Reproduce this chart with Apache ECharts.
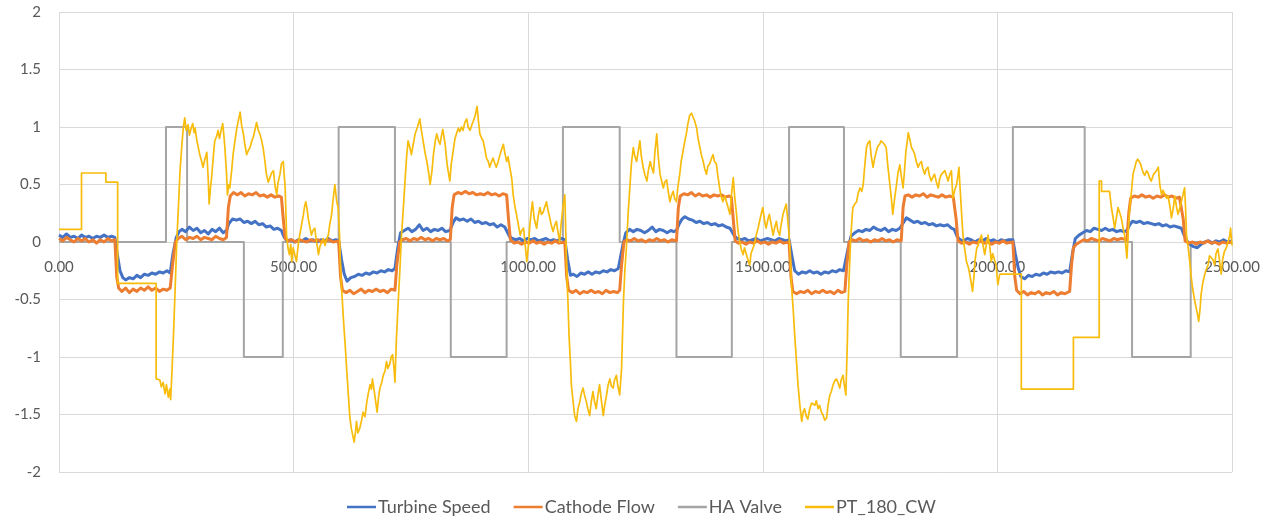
<!DOCTYPE html>
<html>
<head>
<meta charset="utf-8">
<script src="https://cdn.jsdelivr.net/npm/echarts@6/dist/echarts.min.js"></script>
<style>
html,body{margin:0;padding:0;background:#fff;}
#chart{width:1264px;height:519px;}
</style>
</head>
<body>
<div id="chart"></div>
<script>
const seriesNames = ['Turbine Speed', 'Cathode Flow', 'HA Valve', 'PT_180_CW'];
const seriesColors = ['#4472C4', '#ED7D31', '#A5A5A5', '#F7BC0C'];

const haValve = [[0,0],[228,0],[228,1],[273,1],[273,0],[394,0],[394,-1],[477,-1],[477,0],[596,0],[596,1],[716,1],[716,0],[835,0],[835,-1],[954,-1],[954,0],[1074,0],[1074,1],[1195,1],[1195,0],[1316,0],[1316,-1],[1434,-1],[1434,0],[1556,0],[1556,1],[1673,1],[1673,0],[1794,0],[1794,-1],[1914,-1],[1914,0],[2033,0],[2033,1],[2186,1],[2186,0],[2287,0],[2287,-1],[2412,-1],[2412,0],[2500,0]];

const turbineSpeed = [[0,0.06],[8,0.04],[16,0.07],[24,0.04],[32,0.05],[40,0.03],[48,0.06],[56,0.04],[64,0.05],[72,0.03],[80,0.05],[88,0.04],[96,0.06],[104,0.04],[112,0.05],[119,0.04],
[124,-0.1],[130,-0.25],[136,-0.31],[142,-0.33],[150,-0.31],[158,-0.32],[166,-0.29],[174,-0.31],[182,-0.28],[190,-0.29],[198,-0.27],[206,-0.28],[214,-0.26],[222,-0.27],[230,-0.25],[237,-0.27],
[243,-0.1],[250,0.04],[256,0.09],[262,0.11],[270,0.09],[278,0.13],[286,0.1],[294,0.12],[302,0.08],[310,0.1],[318,0.07],[326,0.11],[334,0.09],[342,0.12],[350,0.08],[357,0.1],
[362,0.16],[370,0.2],[378,0.19],[386,0.2],[394,0.17],[402,0.18],[410,0.16],[418,0.18],[426,0.15],[434,0.16],[442,0.13],[450,0.14],[458,0.11],[466,0.12],[474,0.1],
[480,0.04],[486,0.01],[494,0.02],[502,0.0],[510,0.02],[518,0.01],[526,0.03],[534,0.01],[542,0.02],[550,0.0],[558,0.02],[566,0.01],[574,0.03],[582,0.01],[590,0.02],[596,0.01],
[602,-0.15],[608,-0.28],[614,-0.34],[622,-0.31],[630,-0.3],[638,-0.28],[646,-0.29],[654,-0.27],[662,-0.28],[670,-0.26],[678,-0.27],[686,-0.25],[694,-0.26],[702,-0.24],[710,-0.25],[716,-0.23],
[722,-0.05],[728,0.08],[736,0.1],[744,0.12],[752,0.09],[760,0.11],[768,0.15],[776,0.1],[784,0.12],[792,0.09],[800,0.11],[808,0.1],[816,0.12],[824,0.09],[833,0.1],
[840,0.17],[846,0.21],[854,0.19],[862,0.2],[870,0.18],[878,0.2],[886,0.17],[894,0.18],[902,0.16],[910,0.17],[918,0.15],[926,0.16],[934,0.13],[942,0.15],[950,0.13],[954,0.12],
[960,0.05],[966,0.03],[974,0.02],[982,0.03],[990,0.01],[998,0.03],[1006,0.02],[1014,0.03],[1022,0.01],[1030,0.02],[1038,0.03],[1046,0.01],[1054,0.02],[1062,0.01],[1070,0.03],[1078,0.02],
[1084,-0.15],[1090,-0.29],[1096,-0.28],[1104,-0.3],[1112,-0.27],[1120,-0.28],[1128,-0.26],[1136,-0.28],[1144,-0.26],[1152,-0.27],[1160,-0.25],[1168,-0.26],[1176,-0.24],[1184,-0.25],[1192,-0.23],[1196,-0.22],
[1202,-0.02],[1208,0.08],[1216,0.11],[1224,0.09],[1232,0.11],[1240,0.1],[1248,0.08],[1256,0.1],[1264,0.13],[1272,0.09],[1280,0.11],[1288,0.1],[1296,0.08],[1304,0.1],[1310,0.09],[1316,0.1],
[1322,0.16],[1328,0.2],[1334,0.22],[1342,0.2],[1350,0.19],[1358,0.17],[1366,0.18],[1374,0.16],[1382,0.17],[1390,0.15],[1398,0.16],[1406,0.14],[1414,0.15],[1422,0.13],[1430,0.12],[1434,0.12],
[1440,0.05],[1446,0.03],[1454,0.02],[1462,0.03],[1470,0.01],[1478,0.02],[1486,0.03],[1494,0.01],[1502,0.02],[1510,0.03],[1518,0.02],[1526,0.01],[1534,0.03],[1542,0.02],[1550,0.01],[1556,0.02],
[1562,-0.12],[1568,-0.25],[1576,-0.28],[1584,-0.26],[1592,-0.27],[1600,-0.25],[1608,-0.27],[1616,-0.26],[1624,-0.28],[1632,-0.26],[1640,-0.27],[1648,-0.25],[1656,-0.26],[1664,-0.24],[1672,-0.25],[1676,-0.24],
[1682,-0.05],[1688,0.05],[1696,0.08],[1704,0.1],[1712,0.09],[1720,0.11],[1728,0.1],[1736,0.13],[1744,0.11],[1752,0.1],[1760,0.12],[1768,0.09],[1776,0.11],[1784,0.1],[1792,0.12],[1796,0.11],
[1800,0.17],[1806,0.21],[1814,0.19],[1822,0.17],[1830,0.18],[1838,0.16],[1846,0.17],[1854,0.15],[1862,0.16],[1870,0.14],[1878,0.15],[1886,0.14],[1894,0.15],[1902,0.12],[1908,0.11],
[1914,0.05],[1920,0.02],[1928,0.01],[1936,0.03],[1944,0.02],[1952,0.0],[1960,0.02],[1968,0.01],[1976,0.03],[1984,0.01],[1992,0.02],[2000,0.0],[2008,0.02],[2016,0.01],[2024,0.02],[2033,0.02],
[2038,-0.1],[2044,-0.22],[2050,-0.3],[2058,-0.32],[2066,-0.29],[2074,-0.3],[2082,-0.28],[2090,-0.29],[2098,-0.27],[2106,-0.28],[2114,-0.26],[2122,-0.27],[2130,-0.26],[2138,-0.27],[2146,-0.25],[2154,-0.26],
[2160,-0.1],[2166,0.03],[2174,0.06],[2182,0.08],[2190,0.1],[2198,0.09],[2206,0.12],[2214,0.11],[2222,0.1],[2230,0.12],[2238,0.1],[2246,0.11],[2254,0.09],[2262,0.1],[2270,0.09],[2276,0.1],
[2282,0.15],[2288,0.18],[2296,0.17],[2304,0.18],[2312,0.16],[2320,0.17],[2328,0.16],[2336,0.15],[2344,0.16],[2352,0.14],[2360,0.15],[2368,0.13],[2376,0.14],[2384,0.13],[2392,0.12],
[2398,0.06],[2404,0.01],[2410,-0.02],[2418,-0.04],[2426,-0.05],[2434,-0.02],[2442,0.0],[2450,0.01],[2458,-0.01],[2466,0.01],[2474,0.0],[2482,0.02],[2490,0.0],[2500,0.01]];

const cathodeFlow = [[0,0.03],[8,0.01],[16,0.04],[24,0.02],[32,0.0],[40,0.03],[48,0.01],[56,0.03],[64,0.0],[72,0.02],[80,-0.01],[88,0.02],[96,0.0],[104,0.03],[112,0.01],[119,0.02],
[123,-0.3],[127,-0.4],[134,-0.43],[142,-0.4],[150,-0.44],[158,-0.41],[166,-0.43],[174,-0.4],[182,-0.42],[190,-0.39],[198,-0.42],[206,-0.4],[214,-0.43],[222,-0.41],[230,-0.42],[237,-0.4],
[242,-0.2],[248,0.0],[254,0.03],[262,0.05],[270,0.02],[278,0.04],[286,0.03],[294,0.05],[302,0.02],[310,0.04],[318,0.03],[326,0.02],[334,0.05],[342,0.03],[350,0.02],[357,0.04],
[361,0.3],[365,0.4],[372,0.43],[380,0.41],[388,0.43],[396,0.4],[404,0.42],[412,0.41],[420,0.43],[428,0.4],[436,0.41],[444,0.39],[452,0.41],[460,0.39],[468,0.4],[474,0.39],
[478,0.2],[482,0.03],[488,0.01],[496,0.02],[504,0.0],[512,0.02],[520,0.01],[528,0.0],[536,0.02],[544,0.01],[552,0.02],[560,0.0],[568,0.01],[576,0.02],[584,0.0],[596,0.01],
[600,-0.3],[604,-0.42],[612,-0.44],[620,-0.42],[628,-0.45],[636,-0.43],[644,-0.41],[652,-0.44],[660,-0.42],[668,-0.43],[676,-0.41],[684,-0.43],[692,-0.42],[700,-0.44],[708,-0.41],[716,-0.42],
[720,-0.2],[726,0.0],[732,0.02],[740,0.03],[748,0.01],[756,0.03],[764,0.02],[772,0.04],[780,0.02],[788,0.03],[796,0.01],[804,0.03],[812,0.02],[820,0.03],[828,0.01],[834,0.02],
[838,0.3],[842,0.41],[850,0.43],[858,0.42],[866,0.44],[874,0.42],[882,0.43],[890,0.41],[898,0.42],[906,0.41],[914,0.43],[922,0.41],[930,0.42],[938,0.4],[946,0.42],[954,0.41],
[958,0.2],[962,0.02],[970,-0.01],[978,0.0],[986,-0.02],[994,0.0],[1002,-0.01],[1010,0.01],[1018,-0.01],[1026,0.0],[1034,-0.02],[1042,0.0],[1050,-0.01],[1058,0.01],[1066,-0.01],[1078,0.0],
[1082,-0.3],[1086,-0.42],[1094,-0.44],[1102,-0.42],[1110,-0.45],[1118,-0.43],[1126,-0.44],[1134,-0.42],[1142,-0.44],[1150,-0.43],[1158,-0.45],[1166,-0.42],[1174,-0.44],[1182,-0.43],[1190,-0.44],[1195,-0.42],
[1199,-0.2],[1204,0.0],[1210,0.02],[1218,0.01],[1226,0.03],[1234,0.01],[1242,0.02],[1250,0.0],[1258,0.02],[1266,0.01],[1274,0.03],[1282,0.01],[1290,0.02],[1298,0.0],[1306,0.02],[1316,0.01],
[1320,0.3],[1324,0.4],[1332,0.42],[1340,0.41],[1348,0.43],[1356,0.4],[1364,0.42],[1372,0.4],[1380,0.41],[1388,0.39],[1396,0.41],[1404,0.4],[1412,0.41],[1420,0.39],[1428,0.4],[1433,0.39],
[1437,0.2],[1441,0.01],[1448,-0.01],[1456,0.0],[1464,-0.02],[1472,0.0],[1480,-0.01],[1488,0.01],[1496,-0.01],[1504,0.0],[1512,-0.02],[1520,0.0],[1528,-0.01],[1536,0.01],[1544,-0.01],[1556,0.0],
[1560,-0.3],[1564,-0.43],[1572,-0.45],[1580,-0.43],[1588,-0.44],[1596,-0.42],[1604,-0.45],[1612,-0.43],[1620,-0.44],[1628,-0.42],[1636,-0.44],[1644,-0.43],[1652,-0.45],[1660,-0.42],[1668,-0.44],[1675,-0.43],
[1679,-0.2],[1684,0.0],[1690,0.02],[1698,0.01],[1706,0.03],[1714,0.01],[1722,0.02],[1730,0.0],[1738,0.02],[1746,0.01],[1754,0.03],[1762,0.01],[1770,0.02],[1778,0.0],[1786,0.02],[1795,0.01],
[1799,0.3],[1803,0.4],[1810,0.41],[1818,0.39],[1826,0.41],[1834,0.4],[1842,0.42],[1850,0.39],[1858,0.41],[1866,0.4],[1874,0.39],[1882,0.41],[1890,0.39],[1898,0.4],[1906,0.39],
[1912,0.2],[1916,0.01],[1924,-0.01],[1932,0.0],[1940,-0.02],[1948,0.0],[1956,-0.01],[1964,0.01],[1972,-0.01],[1980,0.0],[1988,-0.02],[1996,0.0],[2004,-0.01],[2012,0.01],[2020,-0.01],[2033,0.0],
[2037,-0.3],[2041,-0.42],[2048,-0.45],[2056,-0.43],[2064,-0.46],[2072,-0.44],[2080,-0.45],[2088,-0.43],[2096,-0.46],[2104,-0.44],[2112,-0.45],[2120,-0.43],[2128,-0.46],[2136,-0.44],[2144,-0.45],[2154,-0.43],
[2158,-0.2],[2162,-0.05],[2168,-0.02],[2176,0.0],[2184,0.02],[2192,0.01],[2200,0.03],[2208,0.02],[2216,0.01],[2224,0.03],[2232,0.02],[2240,0.01],[2248,0.03],[2256,0.02],[2264,0.03],[2276,0.02],
[2280,0.25],[2284,0.38],[2292,0.4],[2300,0.39],[2308,0.41],[2316,0.39],[2324,0.4],[2332,0.38],[2340,0.4],[2348,0.39],[2356,0.41],[2364,0.39],[2372,0.4],[2380,0.38],[2388,0.39],[2392,0.38],
[2396,0.2],[2400,0.01],[2408,-0.01],[2416,0.0],[2424,-0.02],[2432,0.0],[2440,-0.01],[2448,0.01],[2456,-0.01],[2464,0.0],[2472,-0.02],[2480,0.0],[2488,-0.01],[2500,0.0]];

const pt180cw = [[0,0.11],[48,0.11],[48,0.6],[100,0.6],[100,0.52],[125,0.52],[125,-0.36],[207,-0.36],[207,-1.19],[215,-1.2],[218,-1.26],[222,-1.22],[226,-1.32],[229,-1.24],[233,-1.35],[236,-1.28],[238,-1.37],[241,-1.1],[244,-0.81],[248,-0.35],[251,0.0],[255,0.35],[258,0.62],[262,0.85],[265,1.0],[268,1.08],[271,0.97],[275,1.02],[278,0.93],[281,0.98],[285,1.03],[288,0.95],[290,0.99],[294,0.88],[297,0.82],[300,0.76],[304,0.7],[307,0.65],[311,0.72],[315,0.78],[318,0.55],[320,0.33],[323,0.48],[325,0.55],[329,0.75],[332,0.88],[336,0.92],[339,0.97],[342,0.9],[345,0.96],[349,1.03],[352,0.9],[354,0.79],[357,0.6],[359,0.41],[362,0.5],[364,0.47],[368,0.62],[371,0.76],[375,0.88],[379,0.99],[382,1.05],[386,1.13],[389,1.02],[393,0.94],[396,0.85],[400,0.76],[404,0.8],[407,0.82],[411,0.88],[414,0.91],[418,0.98],[421,1.04],[425,0.97],[428,0.94],[432,0.88],[435,0.82],[439,0.7],[442,0.59],[446,0.52],[450,0.53],[453,0.6],[457,0.62],[460,0.5],[464,0.41],[467,0.52],[471,0.59],[474,0.68],[478,0.7],[480,0.58],[482,0.47],[485,0.06],[488,-0.05],[491,-0.11],[494,-0.02],[496,-0.17],[499,-0.05],[503,-0.12],[506,-0.17],[510,-0.02],[513,0.06],[517,0.15],[521,0.24],[523,0.3],[526,0.35],[529,0.28],[531,0.21],[535,0.12],[538,0.06],[541,0.1],[545,0.12],[549,0.0],[553,-0.11],[556,-0.04],[560,0.0],[563,0.03],[567,-0.03],[570,0.02],[574,0.06],[577,0.15],[581,0.24],[585,0.4],[588,0.5],[590,0.42],[592,0.35],[595,0.3],[598,0.05],[600,-0.23],[603,-0.45],[606,-0.66],[610,-0.9],[613,-1.1],[617,-1.35],[620,-1.53],[623,-1.62],[626,-1.68],[629,-1.74],[632,-1.65],[634,-1.56],[637,-1.66],[641,-1.62],[645,-1.55],[648,-1.48],[652,-1.52],[656,-1.39],[659,-1.32],[663,-1.24],[666,-1.28],[668,-1.19],[671,-1.27],[673,-1.33],[676,-1.42],[678,-1.48],[681,-1.35],[684,-1.27],[688,-1.22],[691,-1.16],[695,-1.12],[698,-1.04],[701,-1.1],[705,-1.06],[708,-1.0],[711,-0.98],[714,-1.1],[716,-1.22],[719,-0.85],[723,-0.52],[727,-0.2],[730,0.06],[734,0.3],[737,0.5],[741,0.75],[744,0.88],[748,0.82],[751,0.76],[755,0.85],[759,0.94],[764,1.0],[769,1.07],[772,0.98],[776,0.88],[780,0.78],[784,0.7],[788,0.6],[791,0.5],[795,0.62],[798,0.76],[802,0.88],[805,0.94],[809,0.88],[812,0.85],[815,0.92],[818,0.98],[821,0.9],[823,0.85],[826,0.72],[828,0.65],[831,0.58],[833,0.53],[836,0.68],[840,0.79],[844,0.9],[847,0.94],[851,0.99],[854,0.96],[858,1.0],[861,0.97],[865,1.04],[869,1.07],[872,1.0],[876,0.97],[880,1.02],[883,1.05],[887,1.1],[891,1.18],[894,1.05],[897,0.94],[901,0.9],[904,0.88],[908,0.8],[911,0.73],[915,0.7],[918,0.65],[922,0.7],[925,0.73],[929,0.68],[932,0.65],[936,0.7],[940,0.76],[943,0.8],[947,0.85],[950,0.78],[954,0.7],[957,0.74],[961,0.73],[965,0.55],[968,0.41],[972,0.3],[975,0.24],[979,0.15],[983,0.06],[986,0.1],[990,0.12],[993,0.0],[997,-0.17],[1000,-0.05],[1003,0.12],[1006,0.25],[1009,0.35],[1013,0.2],[1018,0.12],[1021,0.22],[1025,0.3],[1028,0.24],[1032,0.26],[1035,0.3],[1039,0.35],[1042,0.28],[1046,0.21],[1049,0.15],[1053,0.09],[1056,0.14],[1060,0.18],[1063,0.1],[1067,0.0],[1070,0.15],[1074,0.3],[1078,0.41],[1080,0.1],[1082,-0.23],[1085,-0.55],[1087,-0.81],[1090,-1.05],[1092,-1.24],[1096,-1.4],[1099,-1.51],[1103,-1.56],[1106,-1.45],[1110,-1.39],[1113,-1.32],[1117,-1.27],[1120,-1.33],[1124,-1.39],[1127,-1.45],[1131,-1.51],[1134,-1.4],[1138,-1.3],[1141,-1.38],[1145,-1.45],[1148,-1.35],[1152,-1.24],[1156,-1.38],[1160,-1.51],[1163,-1.42],[1167,-1.33],[1170,-1.25],[1174,-1.19],[1177,-1.25],[1181,-1.27],[1184,-1.2],[1188,-1.16],[1191,-1.25],[1195,-1.33],[1199,-1.1],[1203,-0.52],[1206,-0.25],[1210,0.0],[1213,0.25],[1217,0.5],[1220,0.68],[1224,0.82],[1227,0.75],[1231,0.7],[1235,0.8],[1238,0.88],[1241,0.75],[1245,0.65],[1249,0.58],[1253,0.53],[1256,0.62],[1260,0.7],[1263,0.65],[1267,0.6],[1270,0.78],[1274,0.94],[1277,0.75],[1281,0.59],[1285,0.52],[1288,0.47],[1291,0.52],[1295,0.54],[1298,0.45],[1302,0.35],[1305,0.4],[1309,0.44],[1312,0.38],[1316,0.35],[1319,0.48],[1323,0.59],[1326,0.7],[1330,0.79],[1333,0.86],[1337,0.94],[1340,1.02],[1344,1.1],[1348,1.12],[1352,1.11],[1355,1.05],[1359,0.99],[1362,0.9],[1366,0.82],[1369,0.76],[1373,0.7],[1376,0.64],[1380,0.59],[1383,0.66],[1387,0.68],[1390,0.72],[1394,0.76],[1397,0.7],[1401,0.68],[1404,0.58],[1408,0.47],[1411,0.4],[1415,0.35],[1419,0.4],[1423,0.4],[1426,0.3],[1430,0.24],[1433,0.4],[1437,0.56],[1440,0.4],[1444,0.24],[1447,0.1],[1451,0.0],[1454,-0.06],[1458,-0.11],[1461,-0.05],[1465,-0.06],[1468,-0.15],[1472,-0.2],[1475,-0.1],[1479,-0.11],[1482,-0.02],[1486,0.06],[1490,0.12],[1493,0.18],[1497,0.25],[1500,0.3],[1504,0.18],[1507,0.12],[1511,0.2],[1514,0.24],[1518,0.15],[1522,0.06],[1525,0.12],[1529,0.18],[1532,0.1],[1536,0.06],[1539,0.15],[1543,0.24],[1546,0.28],[1550,0.33],[1553,0.2],[1556,0.06],[1559,-0.15],[1561,-0.37],[1565,-0.6],[1568,-0.81],[1572,-1.05],[1575,-1.24],[1579,-1.42],[1583,-1.56],[1586,-1.48],[1589,-1.45],[1593,-1.52],[1596,-1.54],[1600,-1.45],[1604,-1.4],[1607,-1.39],[1611,-1.42],[1614,-1.38],[1618,-1.45],[1621,-1.42],[1625,-1.48],[1628,-1.5],[1632,-1.55],[1636,-1.53],[1639,-1.42],[1643,-1.33],[1646,-1.3],[1650,-1.24],[1653,-1.21],[1657,-1.19],[1660,-1.22],[1664,-1.27],[1667,-1.2],[1671,-1.16],[1674,-1.25],[1677,-1.33],[1680,-0.9],[1682,-0.52],[1685,-0.2],[1687,0.0],[1690,0.2],[1692,0.3],[1696,0.33],[1700,0.35],[1703,0.42],[1707,0.47],[1711,0.44],[1714,0.5],[1717,0.65],[1721,0.82],[1724,0.86],[1728,0.88],[1731,0.75],[1735,0.65],[1738,0.72],[1742,0.79],[1745,0.83],[1749,0.85],[1752,0.88],[1756,0.87],[1759,0.85],[1763,0.82],[1766,0.68],[1770,0.53],[1774,0.38],[1777,0.24],[1781,0.38],[1785,0.5],[1788,0.6],[1792,0.67],[1795,0.58],[1799,0.47],[1802,0.62],[1805,0.79],[1808,0.88],[1810,0.95],[1814,0.88],[1817,0.82],[1820,0.8],[1824,0.76],[1827,0.7],[1831,0.65],[1834,0.68],[1838,0.7],[1841,0.64],[1845,0.59],[1848,0.63],[1852,0.65],[1855,0.58],[1859,0.53],[1862,0.56],[1866,0.59],[1870,0.52],[1874,0.47],[1877,0.55],[1881,0.59],[1884,0.6],[1888,0.62],[1891,0.58],[1895,0.53],[1898,0.58],[1902,0.62],[1905,0.38],[1909,0.45],[1913,0.5],[1916,0.58],[1918,0.65],[1920,0.5],[1923,0.3],[1925,0.15],[1928,0.0],[1931,-0.08],[1934,-0.17],[1938,-0.22],[1941,-0.28],[1944,-0.35],[1947,-0.43],[1950,-0.3],[1952,-0.17],[1956,-0.05],[1959,-0.03],[1962,0.02],[1966,0.06],[1969,-0.02],[1973,-0.11],[1976,-0.03],[1980,0.06],[1984,-0.05],[1987,-0.17],[1990,-0.1],[1994,-0.11],[1997,-0.2],[2001,-0.37],[2005,-0.28],[2051,-0.28],[2051,-1.28],[2162,-1.28],[2162,-0.83],[2217,-0.83],[2217,0.53],[2222,0.53],[2222,0.44],[2239,0.44],[2243,0.3],[2247,0.2],[2250,0.12],[2254,0.22],[2257,0.3],[2261,0.25],[2264,0.21],[2268,0.12],[2271,0.06],[2274,-0.05],[2276,-0.14],[2279,0.1],[2282,0.3],[2286,0.45],[2289,0.59],[2293,0.65],[2296,0.7],[2299,0.72],[2302,0.73],[2305,0.68],[2307,0.65],[2311,0.6],[2314,0.58],[2318,0.62],[2321,0.6],[2325,0.55],[2328,0.53],[2332,0.58],[2335,0.6],[2339,0.62],[2343,0.65],[2346,0.5],[2350,0.41],[2353,0.45],[2357,0.44],[2361,0.38],[2364,0.4],[2368,0.3],[2371,0.21],[2375,0.3],[2378,0.4],[2382,0.3],[2385,0.24],[2389,0.3],[2392,0.35],[2396,0.42],[2399,0.47],[2401,0.3],[2403,0.06],[2407,-0.06],[2410,-0.17],[2413,-0.3],[2416,-0.4],[2420,-0.5],[2424,-0.58],[2427,-0.64],[2429,-0.69],[2432,-0.58],[2434,-0.46],[2438,-0.35],[2442,-0.28],[2445,-0.24],[2449,-0.2],[2452,-0.12],[2456,-0.11],[2459,-0.15],[2463,-0.2],[2466,-0.1],[2470,-0.06],[2473,-0.15],[2477,-0.28],[2480,-0.15],[2484,-0.08],[2488,-0.05],[2492,-0.06],[2495,0.05],[2497,0.12],[2500,-0.03]];

const seriesData = [turbineSpeed, cathodeFlow, haValve, pt180cw];
const seriesWidths = [3, 3, 2, 1.7];
const seriesZ = [2, 3, 1, 4];

const GRID_TOP = 12, GRID_BOTTOM = 47, CHART_H = 519;
// x axis labels sit on the value-0 line (midway, since y spans -2..2)
const plotH = CHART_H - GRID_TOP - GRID_BOTTOM;
const xAxisOffset = -plotH / 2;

const FONT = 'Lato, "Open Sans", sans-serif';
const chart = echarts.init(document.getElementById('chart'), null, {renderer: 'canvas'});
chart.setOption({
  animation: false,
  backgroundColor: '#ffffff',
  grid: {left: 59, right: 32, top: GRID_TOP, bottom: GRID_BOTTOM, containLabel: false},
  legend: {
    data: seriesNames,
    left: 347,
    top: 498,
    padding: 0,
    icon: 'rect',
    itemWidth: 29,
    itemHeight: 2.5,
    itemGap: 23,
    textStyle: {fontFamily: FONT, fontSize: 18, color: '#595959', padding: [0, 0, 0, -3]}
  },
  xAxis: {
    type: 'value',
    min: 0, max: 2500, interval: 500,
    offset: xAxisOffset,
    axisLine: {show: false, onZero: false},
    axisTick: {show: false},
    axisLabel: {fontFamily: FONT, fontSize: 15, color: '#595959', margin: 18,
      formatter: v => v.toFixed(2)},
    splitLine: {show: true, lineStyle: {color: '#D9D9D9', width: 1}}
  },
  yAxis: {
    type: 'value',
    min: -2, max: 2, interval: 0.5,
    axisLine: {show: false, onZero: false},
    axisTick: {show: false},
    axisLabel: {fontFamily: FONT, fontSize: 15, color: '#595959', margin: 18},
    splitLine: {show: true, lineStyle: {color: '#D9D9D9', width: 1}}
  },
  series: seriesNames.map((name, i) => ({
    name: name,
    type: 'line',
    data: seriesData[i],
    showSymbol: false,
    symbol: 'none',
    z: seriesZ[i],
    color: seriesColors[i],
    lineStyle: {color: seriesColors[i], width: seriesWidths[i], join: 'round'},
    emphasis: {disabled: true}
  }))
});
</script>
</body>
</html>
